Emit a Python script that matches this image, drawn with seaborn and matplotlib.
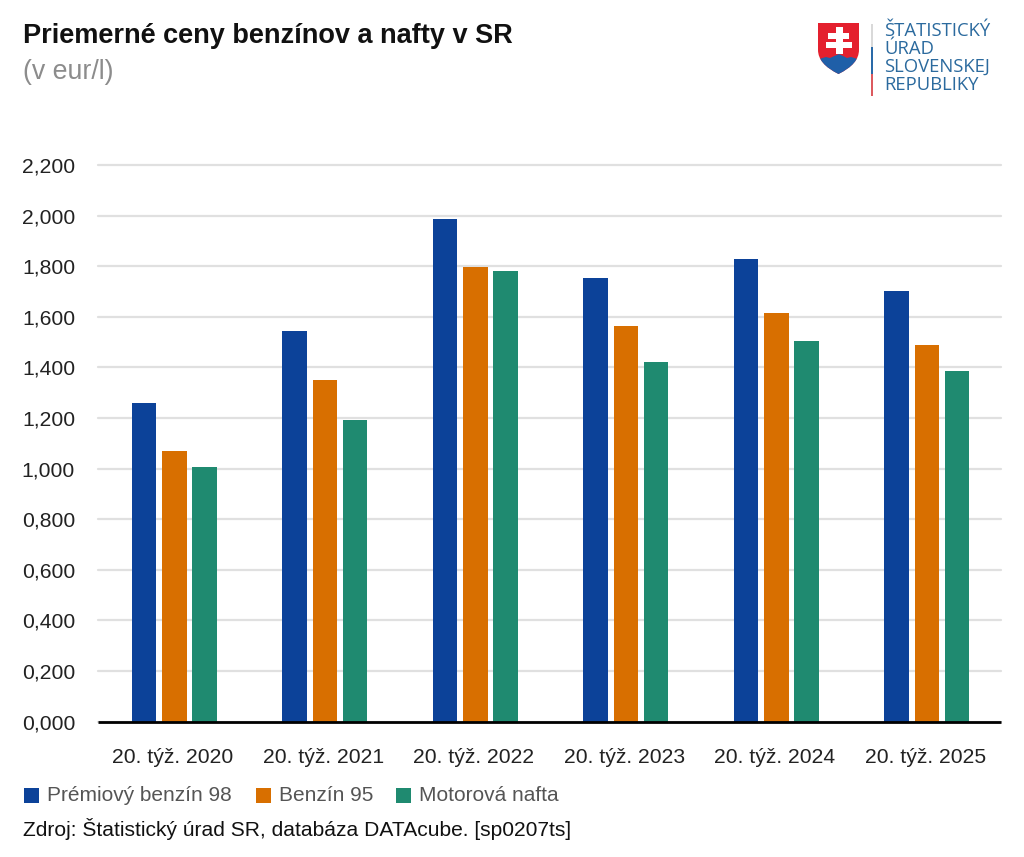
import numpy as np
import pandas as pd
import seaborn as sns
import matplotlib.pyplot as plt
from matplotlib.patches import Rectangle, PathPatch
from matplotlib.path import Path

weeks = ['20. týž. 2020', '20. týž. 2021', '20. týž. 2022',
         '20. týž. 2023', '20. týž. 2024', '20. týž. 2025']
premium_98 = [1.26, 1.545, 1.985, 1.755, 1.83, 1.70]
benzin_95 = [1.07, 1.35, 1.795, 1.565, 1.615, 1.49]
nafta = [1.005, 1.19, 1.78, 1.42, 1.505, 1.385]
series_names = ['Prémiový benzín 98', 'Benzín 95', 'Motorová nafta']
series_colors = ['#0c4299', '#d86f00', '#1f8a70']
y_ticks = [0, 0.2, 0.4, 0.6, 0.8, 1.0, 1.2, 1.4, 1.6, 1.8, 2.0, 2.2]

W, H = 1024, 857

df = pd.DataFrame({'week': weeks,
                   series_names[0]: premium_98,
                   series_names[1]: benzin_95,
                   series_names[2]: nafta})
df = df.melt(id_vars='week', var_name='series', value_name='price')

sns.set_theme(style='white')
plt.rcParams['font.family'] = ['Liberation Sans', 'DejaVu Sans']

fig = plt.figure(figsize=(W / 100, H / 100), dpi=100)
ax = fig.add_axes([98 / W, 1 - 721.5 / H, 903 / W, 556.5 / H])

sns.barplot(data=df, x='week', y='price', hue='series',
            palette=series_colors, width=0.602, gap=0.192,
            saturation=1, legend=False, ax=ax, zorder=3, linewidth=0)

# bars sit about 1.5 px right of their tick in the reference
ax.set_xlim(-0.507, 5.493)
ax.set_xticks(np.arange(len(weeks)) - 0.0106)
ax.set_xticklabels(weeks)
ax.set_ylim(0, 2.2)
ax.set_xlabel('')
ax.set_ylabel('')
ax.set_yticks(y_ticks)
ax.set_yticklabels([f'{v:.3f}'.replace('.', ',') for v in y_ticks])
ax.grid(axis='y', color='#e0e0e0', linewidth=1.6, zorder=0, clip_on=False)
ax.set_axisbelow(True)
sns.despine(ax=ax, left=True, top=True, right=True)
ax.spines['bottom'].set_color('black')
ax.spines['bottom'].set_linewidth(2)
ax.spines['bottom'].set_capstyle('butt')
ax.spines['bottom'].set_zorder(5)
ax.tick_params(axis='y', length=0, labelsize=15.2, pad=16.5, labelcolor='#222222')
ax.tick_params(axis='x', length=8, width=1.6, color='#dddddd', labelsize=15.2,
               pad=11, labelcolor='#222222')

# overlay in pixel coordinates for header, legend, source and logo
ov = fig.add_axes([0, 0, 1, 1], facecolor='none')
ov.set_xlim(0, W)
ov.set_ylim(H, 0)
ov.axis('off')

ov.text(23, 43, 'Priemerné ceny benzínov a nafty v SR', fontsize=19.5,
        fontweight='bold', color='#111111', va='baseline')
ov.text(23, 79, '(v eur/l)', fontsize=19.3, color='#8c8c8c', va='baseline')

legend_x = [23, 255, 395]
for x, name, color in zip(legend_x, series_names, series_colors):
    ov.add_patch(Rectangle((x + 1, 788), 15, 15, color=color, lw=0))
    ov.text(x + 24, 801, name, fontsize=15.05, color='#555555', va='baseline')

ov.text(23, 836, 'Zdroj: Štatistický úrad SR, databáza DATAcube. [sp0207ts]',
        fontsize=15.15, color='#111111', va='baseline')

# logo: shield
shield = Path([(818, 23), (859, 23), (859, 50), (859, 64), (838.5, 74),
               (818, 64), (818, 50), (818, 23)],
              [Path.MOVETO, Path.LINETO, Path.LINETO, Path.CURVE3, Path.CURVE3,
               Path.CURVE3, Path.CURVE3, Path.CLOSEPOLY])
shield_patch = PathPatch(shield, facecolor='#e4202e', edgecolor='none')
ov.add_patch(shield_patch)
hills = Path([(816, 60), (826, 57), (830, 58), (839, 54), (847, 58), (851, 57),
              (861, 60), (861, 76), (816, 76), (816, 60)],
             [Path.MOVETO] + [Path.LINETO] * 8 + [Path.CLOSEPOLY])
hills_patch = PathPatch(hills, facecolor='#1f5fa8', edgecolor='none')
ov.add_patch(hills_patch)
hills_patch.set_clip_path(shield_patch)
ov.add_patch(Rectangle((836, 27), 7, 27, color='white', lw=0))
ov.add_patch(Rectangle((828, 33), 21, 6, color='white', lw=0))
ov.add_patch(Rectangle((826, 42), 26, 6, color='white', lw=0))

# logo: divider
ov.add_patch(Rectangle((871, 24), 2, 23, color='#d9d9d9', lw=0))
ov.add_patch(Rectangle((871, 47), 2, 27, color='#2a6aa8', lw=0))
ov.add_patch(Rectangle((871, 74), 2, 22, color='#dc5a5f', lw=0))

logo_lines = ['ŠTATISTICKÝ', 'ÚRAD', 'SLOVENSKEJ', 'REPUBLIKY']
logo_y = [35.5, 53.5, 71.5, 89.5]
for y, line in zip(logo_y, logo_lines):
    ov.text(884, y, line, fontsize=13.3, family='Open Sans', color='#2b6a9e',
            va='baseline')

fig.savefig('out.png', dpi=100)
